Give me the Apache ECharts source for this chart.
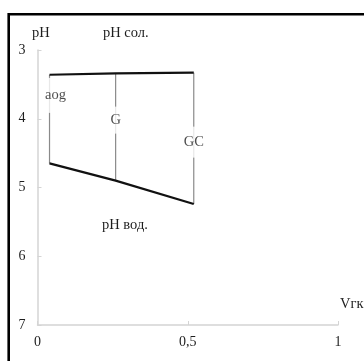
<!DOCTYPE html>
<html>
<head>
<meta charset="utf-8">
<script src="https://cdn.jsdelivr.net/npm/echarts@6/dist/echarts.min.js"></script>
<style>
  html, body { margin: 0; padding: 0; background: #fff; }
  #chart { width: 364px; height: 361px; }
</style>
</head>
<body>
<div id="chart"></div>
<script>
// Soil horizons along the hydrochemical index Vгк
const horizons = ['aog', 'G', 'GC'];
const vgk = [0.04, 0.26, 0.52];
// Salt-extract pH and water-extract pH for each horizon
const phSalt = [3.36, 3.34, 3.33];
const phWater = [4.65, 4.9, 5.24];
// pH level at which each horizon name sits on its connector
const horizonLabelPh = [3.66, 4.02, 4.34];
const xTicks = [0, 0.5, 1];
const yTicks = [3, 4, 5, 6, 7];

const FONT = '"Liberation Serif", "DejaVu Serif", serif';
const TEXT = '#1e1e1e';
const AXIS = '#d4d4d4';
const LABEL_SIZE = 14.5;

const chart = echarts.init(document.getElementById('chart'), null, { renderer: 'canvas' });

const connectorSeries = horizons.map((h, i) => ({
  type: 'line',
  name: h,
  data: [[vgk[i], phSalt[i]], [vgk[i], phWater[i]]],
  symbol: 'none',
  silent: true,
  lineStyle: { color: '#8a8a8a', width: 1.2 },
  z: 2
}));

chart.setOption({
  animation: false,
  backgroundColor: '#fff',
  textStyle: { fontFamily: FONT },
  grid: { left: 37.5, right: 26, top: 50, bottom: 36 },
  xAxis: {
    type: 'value',
    min: xTicks[0],
    max: xTicks[xTicks.length - 1],
    interval: 0.5,
    axisLine: { show: true, lineStyle: { color: AXIS, width: 1.5 } },
    axisTick: { show: true, inside: true, length: 4, lineStyle: { color: AXIS } },
    splitLine: { show: false },
    axisLabel: {
      color: TEXT, fontFamily: FONT, fontSize: 14, margin: 10,
      formatter: v => String(v).replace('.', ',')
    }
  },
  yAxis: {
    type: 'value',
    inverse: true,
    min: yTicks[0],
    max: yTicks[yTicks.length - 1],
    interval: 1,
    axisLine: { show: true, lineStyle: { color: AXIS, width: 1.5 } },
    axisTick: { show: true, inside: true, length: 4, lineStyle: { color: AXIS } },
    splitLine: { show: false },
    axisLabel: { color: TEXT, fontFamily: FONT, fontSize: 14, margin: 12 }
  },
  series: [
    ...connectorSeries,
    {
      type: 'line',
      name: 'pH сол.',
      data: vgk.map((x, i) => [x, phSalt[i]]),
      symbol: 'none',
      silent: true,
      lineStyle: { color: '#111', width: 2.2 },
      z: 3
    },
    {
      type: 'line',
      name: 'pH вод.',
      data: vgk.map((x, i) => [x, phWater[i]]),
      symbol: 'none',
      silent: true,
      lineStyle: { color: '#111', width: 2.2 },
      z: 3
    },
    {
      type: 'scatter',
      name: 'horizons',
      symbolSize: 0,
      silent: true,
      z: 4,
      data: horizons.map((h, i) => ({
        value: [vgk[i], horizonLabelPh[i]],
        name: h,
        label: {
          offset: i === 0 ? [6, 0] : [0, 0],
          padding: i === 0 ? [10, 2] : (i === 1 ? [6, 2] : [8, 2])
        }
      })),
      label: {
        show: true,
        position: 'inside',
        formatter: p => p.name,
        color: TEXT,
        fontFamily: FONT,
        fontSize: LABEL_SIZE,
        backgroundColor: '#fff'
      }
    }
  ],
  graphic: [
    {
      type: 'polyline',
      shape: { points: [[8.7, 370], [8.7, 14.3], [370, 14.3]] },
      style: { stroke: '#000', lineWidth: 2.6, fill: null },
      z: 10
    },
    { type: 'text', left: 32, top: 26, style: { text: 'pH', font: LABEL_SIZE + 'px ' + FONT, fill: TEXT } },
    { type: 'text', left: 103, top: 26, style: { text: 'pH сол.', font: LABEL_SIZE + 'px ' + FONT, fill: TEXT } },
    { type: 'text', left: 102, top: 218, style: { text: 'pH вод.', font: LABEL_SIZE + 'px ' + FONT, fill: TEXT } },
    { type: 'text', left: 340, top: 297, style: { text: 'Vгк', font: LABEL_SIZE + 'px ' + FONT, fill: TEXT } }
  ]
});
</script>
</body>
</html>
